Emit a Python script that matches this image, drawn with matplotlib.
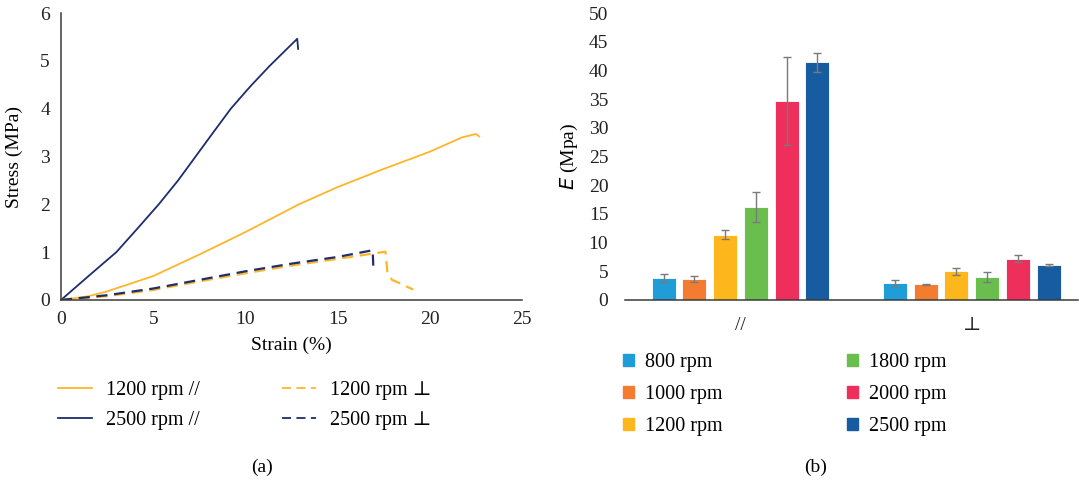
import numpy as np
import matplotlib.pyplot as plt
from matplotlib.patches import Patch
from matplotlib.lines import Line2D

plt.rcParams['font.family'] = ['Liberation Serif', 'DejaVu Serif', 'DejaVu Sans']
plt.rcParams['font.size'] = 14

# (a) stress-strain curves
strain_1200_par = [0, 1.5, 2.5, 5.0, 7.5, 10.0, 12.9, 15.0, 17.5, 20.0, 21.75, 22.5, 22.68]
stress_1200_par = [0, 0.08, 0.18, 0.5, 0.95, 1.42, 2.0, 2.36, 2.74, 3.1, 3.4, 3.47, 3.42]
strain_2500_par = [0, 1.49, 3.0, 4.16, 5.3, 6.35, 7.3, 8.25, 9.21, 10.07, 10.35, 11.33, 12.2, 12.81, 12.86]
stress_2500_par = [0, 0.5, 1.0, 1.5, 2.0, 2.5, 3.0, 3.5, 4.0, 4.38, 4.5, 4.9, 5.23, 5.46, 5.25]
strain_1200_perp = [0, 2.5, 5, 7.5, 10, 12.5, 15, 16.9, 17.6, 17.7, 17.95, 18.2, 18.5, 18.8, 19.1]
stress_1200_perp = [0, 0.08, 0.21, 0.39, 0.56, 0.72, 0.86, 0.97, 1.01, 0.58, 0.42, 0.38, 0.33, 0.27, 0.22]
strain_2500_perp = [0, 2.5, 5, 7.5, 10, 12.5, 15, 16.9, 16.95]
stress_2500_perp = [0, 0.1, 0.24, 0.42, 0.6, 0.76, 0.9, 1.04, 0.59]

# (b) modulus bars
groups = ['//', '\u22a5']
speeds = ['800 rpm', '1000 rpm', '1200 rpm', '1800 rpm', '2000 rpm', '2500 rpm']
E_par = [3.8, 3.6, 11.4, 16.2, 34.7, 41.4]
E_par_err = [0.7, 0.55, 0.75, 2.65, 7.7, 1.65]
E_perp = [2.9, 2.75, 5.0, 4.0, 7.2, 6.1]
E_perp_err = [0.5, 0.12, 0.6, 0.95, 0.65, 0.12]
bar_colors = ['#1f9dd9', '#f47c30', '#fdb61c', '#6abe4d', '#ee2f5c', '#175ba0']

yellow = '#fbb62a'
navy = '#1e2d6b'
spine_c = '#3a3a3a'

fig = plt.figure(figsize=(10.8, 4.83), dpi=100)
W, H = 1080, 483

ax1 = fig.add_axes([61 / W, (H - 300) / H, 461 / W, 287 / H])
ax1.plot(strain_1200_par, stress_1200_par, color=yellow, lw=1.3)
ax1.plot(strain_2500_par, stress_2500_par, color=navy, lw=1.3)
ax1.plot(strain_1200_perp, stress_1200_perp, color=yellow, lw=1.6, dashes=(5, 3))
ax1.plot(strain_2500_perp, stress_2500_perp, color=navy, lw=1.6, dashes=(5, 3))
ax1.set_xlim(0, 25)
ax1.set_ylim(0, 6)
ax1.set_xticks(range(0, 26, 5))
ax1.set_yticks(range(0, 7))
for s in ['top', 'right']:
    ax1.spines[s].set_visible(False)
for s in ['left', 'bottom']:
    ax1.spines[s].set_color(spine_c)
    ax1.spines[s].set_linewidth(1.1)
ax1.tick_params(length=0, pad=8, colors='#222222')
ax1.set_xlabel('Strain (%)', labelpad=6)
ax1.set_ylabel('Stress (MPa)', labelpad=12)

h1 = [Line2D([], [], color=yellow, lw=1.3), Line2D([], [], color=navy, lw=1.3)]
h2 = [Line2D([], [], color=yellow, lw=1.3, dashes=(5, 3)),
      Line2D([], [], color=navy, lw=1.3, dashes=(5, 3))]
leg_kw = dict(frameon=False, borderpad=0, borderaxespad=0, handlelength=1.7,
              handletextpad=0.7, labelspacing=0.55, loc='upper left', fontsize=14.5)
fig.legend(h1, ['1200 rpm //', '2500 rpm //'],
           bbox_to_anchor=(58 / W, (H - 381) / H), **leg_kw)
fig.legend(h2, ['1200 rpm \u22a5', '2500 rpm \u22a5'],
           bbox_to_anchor=(282 / W, (H - 381) / H), **leg_kw)

ax2 = fig.add_axes([625 / W, (H - 300) / H, 453 / W, 287 / H])
x = np.arange(len(groups))
step = 0.133
width = 0.104
for i, sp in enumerate(speeds):
    vals = [E_par[i], E_perp[i]]
    errs = [E_par_err[i], E_perp_err[i]]
    ax2.bar(x + (i - 2.5) * step, vals, width, color=bar_colors[i],
            edgecolor='white', linewidth=0.6, yerr=errs,
            error_kw=dict(ecolor='#7a7a7a', elinewidth=1, capsize=3, capthick=1),
            label=sp, zorder=2)
ax2.set_xlim(-0.5, 1.46)
ax2.set_ylim(0, 50)
ax2.set_yticks(range(0, 51, 5))
ax2.set_xticks(x)
ax2.set_xticklabels(groups)
for s in ['top', 'right', 'left']:
    ax2.spines[s].set_visible(False)
ax2.spines['bottom'].set_color(spine_c)
ax2.spines['bottom'].set_linewidth(1.1)
ax2.tick_params(length=0, colors='#222222')
ax2.tick_params(axis='y', pad=12)
ax2.tick_params(axis='x', pad=12)
ax2.set_ylabel('$\\it{E}$ (Mpa)', labelpad=6)

handles = [Patch(color=c) for c in bar_colors]
leg_kw2 = dict(frameon=False, borderpad=0, borderaxespad=0, handlelength=0.55,
               handleheight=0.55, handletextpad=0.55, labelspacing=0.65,
               loc='upper left', fontsize=14.5)
fig.legend(handles[:3], speeds[:3], bbox_to_anchor=(623 / W, (H - 353) / H), **leg_kw2)
fig.legend(handles[3:], speeds[3:], bbox_to_anchor=(847 / W, (H - 353) / H), **leg_kw2)

fig.text(262 / W, (H - 467) / H, '(a)', ha='center', va='center')
fig.text(816 / W, (H - 467) / H, '(b)', ha='center', va='center')

fig.savefig('out.png', dpi=100)
